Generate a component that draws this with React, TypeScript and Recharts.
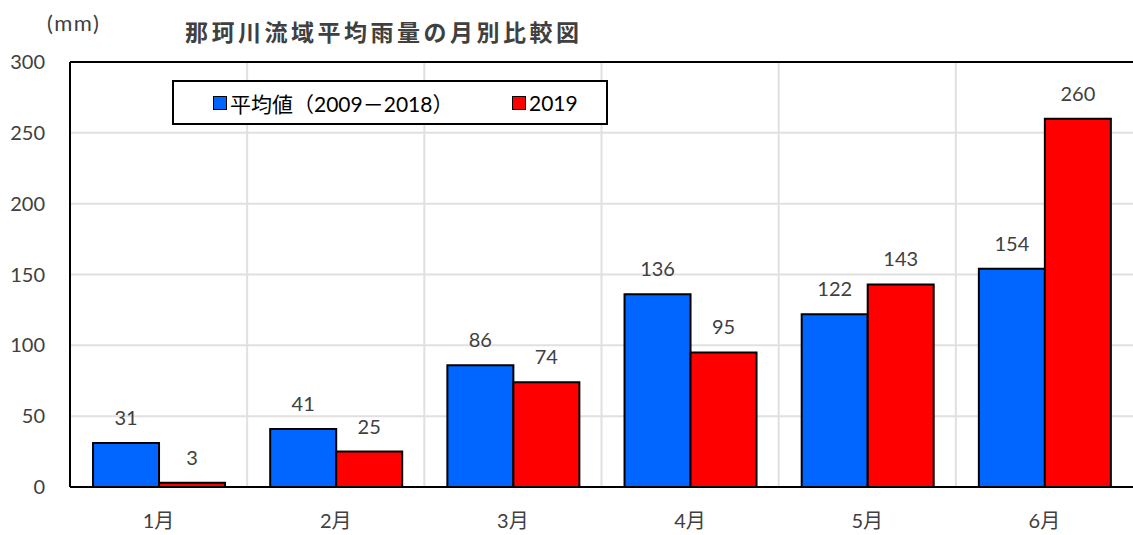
import React from "react";
import {
  Bar,
  BarChart,
  CartesianGrid,
  LabelList,
  Legend,
  ReferenceLine,
  XAxis,
  YAxis,
} from "recharts";

const months = ["1月", "2月", "3月", "4月", "5月", "6月"];
const avgValues = [31, 41, 86, 136, 122, 154];
const values2019 = [3, 25, 74, 95, 143, 260];
const yTicks = [0, 50, 100, 150, 200, 250, 300];

const AVG_NAME = "平均値（2009－2018）";
const Y2019_NAME = "2019";
const seriesOrder = ["avg", "y2019"];

const FONT = "Lato, 'Noto Sans CJK JP', sans-serif";
const TEXT = "#404040";

const data = months.map((m, i) => ({ month: m, avg: avgValues[i], y2019: values2019[i] }));

function LegendBox({ payload }: any) {
  const items = [...(payload ?? [])].sort(
    (a: any, b: any) => seriesOrder.indexOf(a.dataKey) - seriesOrder.indexOf(b.dataKey),
  );
  return (
    <div
      style={{
        position: "relative",
        width: 436,
        height: 45,
        boxSizing: "border-box",
        border: "2px solid #000",
        background: "#fff",
        fontFamily: FONT,
        fontSize: 21,
        color: "#000",
      }}
    >
      {items.map((it: any, i: number) => (
        <div
          key={it.value}
          style={{
            position: "absolute",
            left: i === 0 ? 39 : 338,
            top: 0,
            height: 41,
            display: "flex",
            alignItems: "center",
            whiteSpace: "nowrap",
          }}
        >
          <span
            style={{
              display: "inline-block",
              width: 12,
              height: 12,
              background: it.color,
              border: "1px solid #000",
              marginRight: 3,
            }}
          />
          <span>{it.value}</span>
        </div>
      ))}
    </div>
  );
}

export default function App() {
  return (
    <div
      style={{
        position: "fixed",
        left: 0,
        top: 0,
        width: 1133,
        height: 535,
        background: "#fff",
        fontFamily: FONT,
      }}
    >
      <div
        style={{ position: "absolute", left: 47, top: 9, fontSize: 22, letterSpacing: 1.5, color: TEXT }}
      >
        (mm)
      </div>
      <div
        style={{
          position: "absolute",
          left: 185,
          top: 16,
          fontSize: 23,
          fontWeight: 700,
          letterSpacing: 3.5,
          color: TEXT,
          fontFamily: "'Noto Sans CJK JP', sans-serif",
          lineHeight: "30px",
        }}
      >
        那珂川流域平均雨量の月別比較図
      </div>
      <BarChart
        width={1133}
        height={535}
        data={data}
        margin={{ top: 62, right: 0, left: 0, bottom: 0 }}
        barCategoryGap="13%"
        barGap={0}
        style={{ position: "absolute", left: 0, top: 0 }}
      >
        <CartesianGrid
          stroke="#e0e0e0"
          strokeWidth={2}
          verticalCoordinatesGenerator={({ offset }: any) =>
            months.slice(1).map((_, i) => offset.left + ((i + 1) * offset.width) / months.length)
          }
        />
        <XAxis
          dataKey="month"
          height={48}
          tickSize={0}
          tickMargin={27}
          axisLine={{ stroke: "#000", strokeWidth: 2 }}
          tick={{ fontSize: 20, fill: TEXT, fontFamily: FONT }}
        />
        <YAxis
          width={70}
          domain={[0, 300]}
          ticks={yTicks}
          interval={0}
          tickSize={0}
          tickMargin={25}
          axisLine={{ stroke: "#000", strokeWidth: 2 }}
          tick={{ fontSize: 20, fill: TEXT, fontFamily: FONT }}
        />
        <ReferenceLine y={300} stroke="#000" strokeWidth={2} />
        <Legend
          layout="vertical"
          align="center"
          verticalAlign="middle"
          wrapperStyle={{ left: 172, top: 80, width: 436, height: 45 }}
          content={<LegendBox />}
        />
        <Bar
          dataKey="avg"
          name={AVG_NAME}
          fill="#0066FF"
          stroke="#000"
          strokeWidth={2}
          isAnimationActive={false}
        >
          <LabelList dataKey="avg" position="top" offset={18} fill={TEXT} fontSize={20} fontFamily={FONT} />
        </Bar>
        <Bar
          dataKey="y2019"
          name={Y2019_NAME}
          fill="#FF0000"
          stroke="#000"
          strokeWidth={2}
          isAnimationActive={false}
        >
          <LabelList dataKey="y2019" position="top" offset={18} fill={TEXT} fontSize={20} fontFamily={FONT} />
        </Bar>
      </BarChart>
    </div>
  );
}
